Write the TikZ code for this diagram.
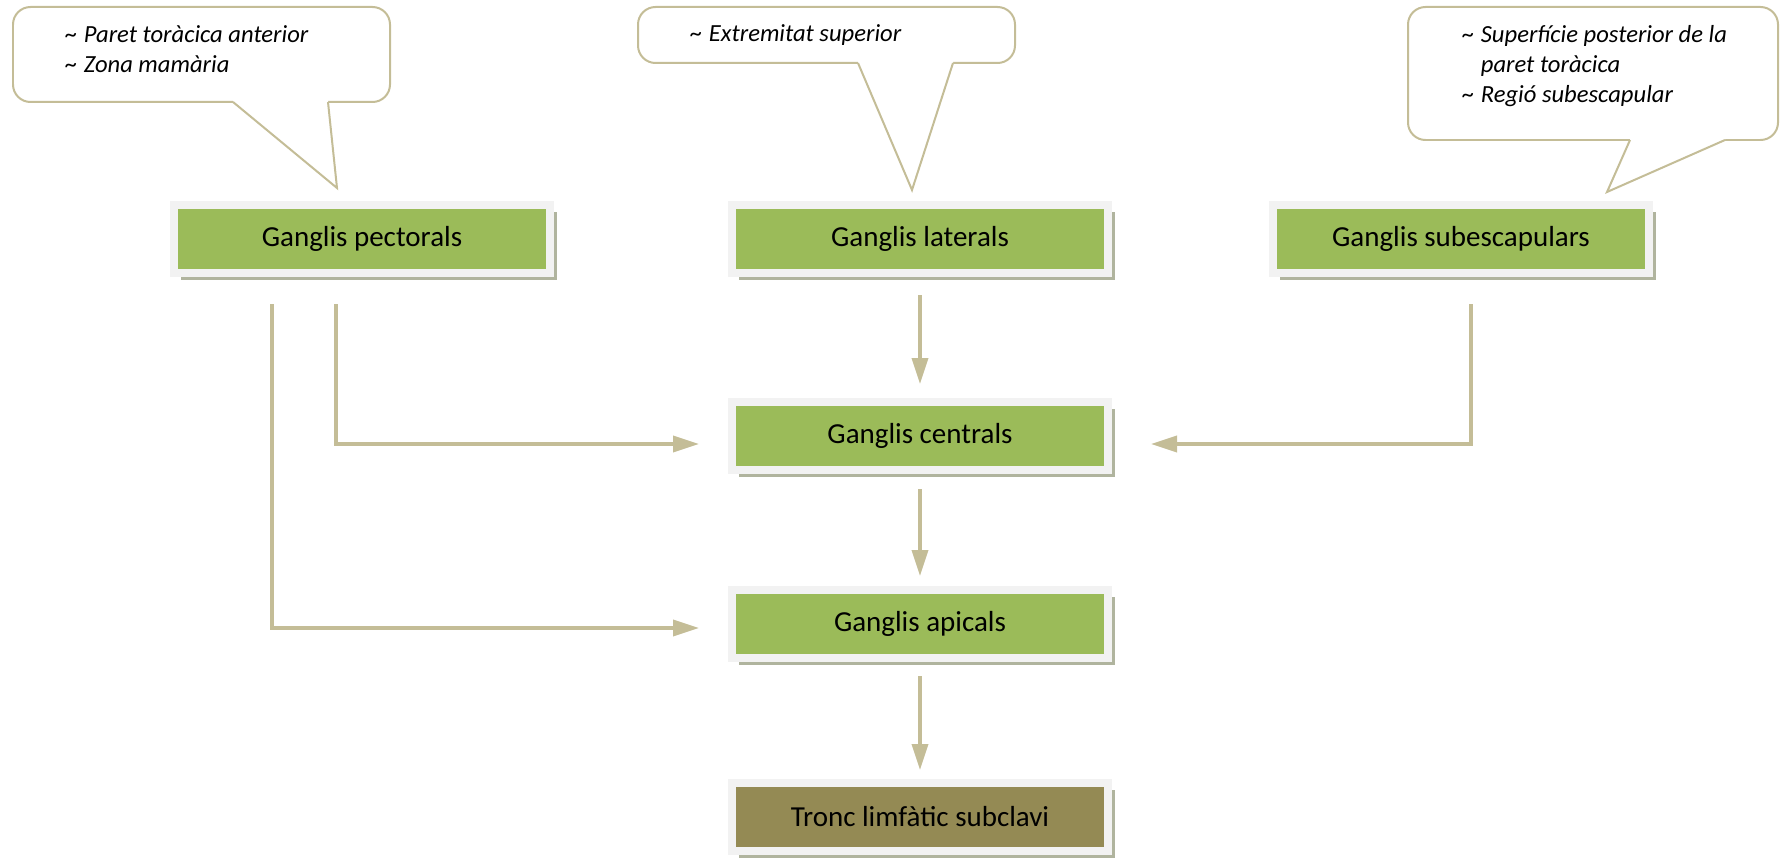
\documentclass[tikz,border=0pt]{standalone}
\usepackage{fontspec}
\setmainfont{Carlito}
\usetikzlibrary{arrows.meta,shadows}
\definecolor{hexcolor0x9bbb59}{rgb}{0.608,0.733,0.349}
\definecolor{hexcolor0x948a54}{rgb}{0.580,0.541,0.329}
\definecolor{hexcolor0xc4bd97}{rgb}{0.769,0.741,0.592}
\definecolor{hexcolor0xf2f2f2}{rgb}{0.949,0.949,0.949}
\definecolor{hexcolor0xb0b49e}{rgb}{0.690,0.706,0.620}
\definecolor{myblack}{rgb}{0.000,0.000,0.000}
\definecolor{mywhite}{rgb}{1.000,1.000,1.000}
\newcommand{\tilda}{\makebox[0.37cm][l]{\textasciitilde}}
\tikzstyle{ganglis}=[rectangle,fill=hexcolor0x9bbb59,draw=hexcolor0xf2f2f2,line width=0.16cm,minimum width=7.52cm,minimum height=1.36cm,inner sep=0pt,text=myblack,font=\fontsize{16.5}{19.8}\selectfont,drop shadow={shadow xshift=0.13cm,shadow yshift=-0.14cm,fill=hexcolor0xb0b49e,opacity=1}]
\tikzstyle{tronc}=[ganglis,fill=hexcolor0x948a54]
\tikzstyle{flow}=[draw=hexcolor0xc4bd97,line width=0.07cm,-{Triangle[length=0.52cm,width=0.32cm]}]
\tikzstyle{bubble}=[draw=hexcolor0xc4bd97,line width=0.04cm,fill=mywhite,rounded corners=0.35cm]
\tikzstyle{wedge}=[draw=hexcolor0xc4bd97,line width=0.04cm]
\tikzstyle{nota}=[inner sep=0pt,anchor=base west,text=myblack,font=\fontsize{14}{16.8}\selectfont\itshape]

\begin{document}
\begin{tikzpicture}
	\useasboundingbox (0,0) rectangle (35.6,17.16);
	\draw [style=bubble] (0.26,15.12) rectangle (7.8,17.02);
	\fill [mywhite] (4.66,15.12) -- (6.74,13.4) -- (6.56,15.12) -- (6.56,15.3) -- (4.66,15.3) -- cycle;
	\draw [style=wedge] (4.66,15.12) -- (6.74,13.4) -- (6.56,15.12);
	\draw [style=bubble] (12.76,15.9) rectangle (20.3,17.02);
	\fill [mywhite] (17.16,15.9) -- (18.24,13.36) -- (19.06,15.9) -- (19.06,16.08) -- (17.16,16.08) -- cycle;
	\draw [style=wedge] (17.16,15.9) -- (18.24,13.36) -- (19.06,15.9);
	\draw [style=bubble] (28.16,14.36) rectangle (35.56,17.02);
	\fill [mywhite] (32.6,14.36) -- (32.14,13.32) -- (34.5,14.36) -- (34.5,14.54) -- (32.6,14.54) -- cycle;
	\draw [style=wedge] (32.6,14.36) -- (32.14,13.32) -- (34.5,14.36);

	\node [style=nota] (6) at (1.3,16.3) {\begin{tabular}[t]{@{}l@{}l@{}}\tilda & Paret toràcica anterior\\ \tilda & Zona mamària\end{tabular}};
	\node [style=nota] (7) at (13.8,16.32) {\tilda Extremitat superior};
	\node [style=nota] (8) at (29.24,16.3) {\begin{tabular}[t]{@{}l@{}l@{}}\tilda & Superfície posterior de la\\ & paret toràcica\\ \tilda & Regió subescapular\end{tabular}};

	\node [style=ganglis] (0) at (7.24, 12.38) {Ganglis pectorals};
	\node [style=ganglis] (1) at (18.4, 12.38) {Ganglis laterals};
	\node [style=ganglis] (2) at (29.22, 12.38) {Ganglis subescapulars};
	\node [style=ganglis] (3) at (18.4, 8.44) {Ganglis centrals};
	\node [style=ganglis] (4) at (18.4, 4.68) {Ganglis apicals};
	\node [style=tronc] (5) at (18.4, 0.82) {Tronc limfàtic subclavi};

	\draw [style=flow, shorten <=0.36cm, shorten >=0.28cm] (1) to (3);
	\draw [style=flow, shorten <=0.3cm, shorten >=0.2cm] (3) to (4);
	\draw [style=flow, shorten <=0.28cm, shorten >=0.18cm] (4) to (5);
	\draw [style=flow, shorten <=0.54cm, shorten >=0.58cm] ([xshift=-0.52cm]0.south) |- ([yshift=-0.16cm]3.west);
	\draw [style=flow, shorten <=0.54cm, shorten >=0.58cm] ([xshift=-1.8cm]0.south) |- ([yshift=-0.08cm]4.west);
	\draw [style=flow, shorten <=0.54cm, shorten >=0.78cm] ([xshift=0.2cm]2.south) |- ([yshift=-0.16cm]3.east);
\end{tikzpicture}
\end{document}
